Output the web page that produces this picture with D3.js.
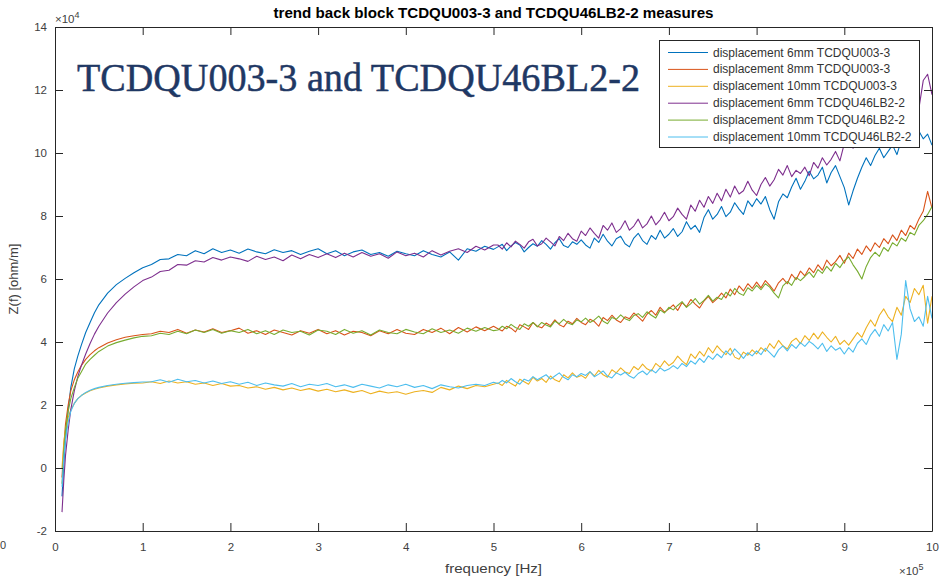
<!DOCTYPE html>
<html><head><meta charset="utf-8">
<script src="https://cdn.jsdelivr.net/npm/d3@7"></script>
<style>
html,body{margin:0;padding:0;background:#fff;}
svg{display:block;font-family:"Liberation Sans",Arial,sans-serif;}
</style></head>
<body><svg id="chart" width="947" height="577"></svg>
<script>
// ---------- DATA ----------
const chartTitle = "trend back block TCDQU003-3 and TCDQU46LB2-2 measures";
const overlayText = "TCDQU003-3 and TCDQU46BL2-2";
const xLabel = "frequency [Hz]";
const yLabel = "Z(f) [ohm/m]";
const xTicks = [0,1,2,3,4,5,6,7,8,9,10];            // ×10^5 Hz
const yTicks = [-2,0,2,4,6,8,10,12,14];               // ×10^4 ohm/m
const seriesNames = [
  "displacement 6mm TCDQU003-3",
  "displacement 8mm TCDQU003-3",
  "displacement 10mm TCDQU003-3",
  "displacement 6mm TCDQU46LB2-2",
  "displacement 8mm TCDQU46LB2-2",
  "displacement 10mm TCDQU46LB2-2"
];
const seriesColors = ["#0072BD","#D95319","#EDB120","#7E2F8E","#77AC30","#4DBEEE"];

// frequency in kHz
const freqKHz = [8,10,12,15,18,22,26,30,35,40,45,50,60,70,80,90,100,
110,120,130,140,150,160,170,180,190,200,
210,220,230,240,250,260,270,280,290,300,
310,320,330,340,350,360,370,380,390,400,
410,420,430,440,450,460,470,480,490,500,
505,510,515,520,525,530,535,540,545,550,
555,560,565,570,575,580,585,590,595,600,
605,610,615,620,625,630,635,640,645,650,
655,660,665,670,675,680,685,690,695,700,
705,710,715,720,725,730,735,740,745,750,
755,760,765,770,775,780,785,790,795,800,
805,810,815,820,825,830,835,840,845,850,
855,860,865,870,875,880,885,890,895,900,
905,910,915,920,925,930,935,940,945,950,
955,960,965,970,975,980,985,990,995,1000];

// Z(f) values in units of 1e4 ohm/m
const disp6mm_003 = [-0.90,0.10,0.95,1.85,2.55,3.15,3.55,3.90,4.30,4.62,4.93,5.18,5.55,5.82,6.02,6.20,6.36,
6.46,6.62,6.64,6.78,6.74,6.90,6.80,6.96,6.84,6.92,
6.82,6.95,6.86,6.80,6.93,6.84,6.90,6.78,6.88,6.96,
6.80,6.90,6.74,6.86,6.92,6.78,6.84,6.72,6.88,6.80,
6.74,6.90,6.78,6.70,6.86,6.60,6.96,6.88,7.04,6.94,
7.02,7.10,6.90,7.05,7.16,7.08,6.86,7.00,7.12,7.04,
7.22,7.10,6.95,7.15,7.28,7.06,7.00,7.18,7.10,7.24,
7.08,6.98,7.30,7.16,7.42,7.20,7.05,7.28,7.36,7.12,
7.02,7.30,7.45,7.22,7.10,7.38,7.26,7.55,7.30,7.42,
7.60,7.35,7.50,7.82,7.58,7.70,7.48,7.95,8.20,7.90,
8.05,8.30,7.98,8.12,8.42,8.22,8.05,8.48,8.30,8.55,
8.38,8.62,8.20,7.90,8.45,8.70,8.58,8.92,9.20,8.85,
9.10,9.42,9.18,9.30,9.55,9.05,9.38,9.60,9.25,8.90,
8.35,8.80,9.20,9.55,9.85,9.60,9.92,10.15,9.85,10.05,
10.25,9.95,10.40,10.20,10.55,10.35,10.70,10.45,10.60,10.25];

const disp8mm_003 = [-0.30,0.70,1.40,2.00,2.45,2.80,3.05,3.25,3.45,3.60,3.72,3.82,3.97,4.07,4.15,4.20,4.24,
4.26,4.34,4.30,4.40,4.28,4.38,4.32,4.42,4.30,4.36,
4.44,4.28,4.36,4.24,4.38,4.30,4.22,4.36,4.28,4.40,
4.26,4.36,4.22,4.34,4.30,4.20,4.36,4.26,4.40,4.28,
4.24,4.40,4.30,4.44,4.26,4.46,4.32,4.48,4.36,4.50,
4.42,4.35,4.50,4.44,4.32,4.55,4.48,4.40,4.62,4.50,
4.45,4.60,4.52,4.70,4.55,4.48,4.66,4.58,4.75,4.62,
4.55,4.72,4.65,4.50,4.78,4.68,4.85,4.70,4.62,4.80,
4.74,4.92,4.80,4.66,4.88,5.00,4.85,5.10,4.95,5.05,
5.18,5.00,5.25,5.12,5.35,5.20,5.08,5.30,5.45,5.25,
5.38,5.55,5.40,5.68,5.50,5.78,5.62,5.85,5.70,5.90,
5.72,5.95,5.80,5.62,5.88,6.02,5.85,6.15,5.98,6.25,
6.10,6.35,6.20,6.45,6.28,6.60,6.42,6.55,6.75,6.50,
6.82,6.65,6.95,6.78,7.05,6.88,7.15,7.00,7.28,7.12,
7.40,7.22,7.55,7.38,7.70,7.58,7.90,8.15,8.78,8.25];

const disp10mm_003 = [0.00,0.80,1.20,1.60,1.85,2.05,2.20,2.30,2.38,2.45,2.50,2.54,2.60,2.64,2.67,2.69,2.70,
2.74,2.68,2.76,2.70,2.74,2.66,2.70,2.62,2.68,2.60,
2.62,2.54,2.58,2.50,2.56,2.48,2.54,2.46,2.52,2.44,
2.50,2.42,2.48,2.40,2.46,2.36,2.44,2.38,2.42,2.34,
2.42,2.46,2.40,2.56,2.48,2.60,2.52,2.62,2.58,2.66,
2.70,2.62,2.78,2.68,2.60,2.82,2.74,2.66,2.88,2.76,
2.84,2.72,2.92,2.80,2.74,2.96,2.86,3.02,2.88,2.94,
2.85,3.05,2.92,3.10,2.96,2.88,3.12,3.02,3.18,3.05,
3.00,3.22,3.12,3.30,3.15,3.08,3.32,3.20,3.40,3.25,
3.35,3.55,3.40,3.28,3.62,3.48,3.70,3.55,3.82,3.65,
3.88,3.72,3.60,3.80,3.52,3.45,3.68,3.58,3.75,3.62,
3.82,3.70,3.95,3.80,4.05,3.88,3.78,4.02,4.12,3.95,
4.20,4.05,4.28,4.10,4.32,4.15,4.00,4.18,3.92,4.05,
3.90,4.10,4.30,4.15,4.45,4.70,4.50,4.85,5.05,4.80,
4.65,5.10,4.85,5.45,5.25,5.70,5.50,5.80,4.60,5.45];

const disp6mm_46LB = [-1.40,-0.40,0.40,1.20,1.85,2.45,2.90,3.25,3.62,3.95,4.25,4.50,4.92,5.25,5.52,5.75,5.95,
6.06,6.24,6.28,6.46,6.44,6.58,6.54,6.68,6.60,6.70,
6.64,6.56,6.72,6.62,6.70,6.58,6.76,6.64,6.78,6.68,
6.80,6.68,6.82,6.70,6.84,6.72,6.80,6.66,6.86,6.74,
6.82,6.70,6.90,6.76,6.88,6.96,6.84,7.04,6.92,7.08,
7.08,6.95,7.15,7.02,7.20,7.10,6.98,7.18,7.26,7.05,
7.12,7.30,7.18,7.05,7.35,7.22,7.45,7.28,7.20,7.52,
7.38,7.62,7.45,7.30,7.70,7.55,7.78,7.48,7.60,7.85,
7.55,7.68,7.90,7.62,7.75,8.00,7.72,7.88,8.12,7.85,
7.98,8.25,8.05,7.90,8.35,8.15,8.50,8.28,8.62,8.40,
8.72,8.48,8.85,8.60,8.95,8.70,8.80,9.10,8.82,8.65,
9.00,9.22,8.95,9.15,9.48,9.30,9.60,9.25,9.45,9.35,
9.55,9.28,9.70,9.52,9.85,9.62,9.80,10.05,9.75,10.30,
10.45,10.15,10.60,10.35,10.50,10.25,10.70,10.45,10.85,10.60,
10.95,10.70,11.10,10.85,11.30,11.05,11.40,12.30,12.50,11.85];

const disp8mm_46LB = [-0.50,0.50,1.20,1.80,2.20,2.55,2.85,3.05,3.30,3.45,3.58,3.70,3.87,3.98,4.06,4.13,4.18,
4.20,4.28,4.24,4.34,4.26,4.38,4.30,4.40,4.28,4.36,
4.30,4.40,4.26,4.36,4.24,4.38,4.30,4.34,4.22,4.38,
4.34,4.24,4.40,4.28,4.36,4.22,4.38,4.30,4.26,4.40,
4.32,4.26,4.42,4.30,4.38,4.28,4.44,4.34,4.46,4.36,
4.38,4.50,4.42,4.56,4.46,4.40,4.58,4.50,4.62,4.48,
4.62,4.54,4.48,4.66,4.58,4.72,4.60,4.55,4.70,4.64,
4.76,4.62,4.70,4.82,4.66,4.58,4.78,4.72,4.86,4.74,
4.68,4.84,4.90,4.78,4.96,4.85,4.76,5.02,4.92,5.10,
5.02,5.16,5.28,5.10,5.22,5.38,5.20,5.32,5.48,5.30,
5.42,5.35,5.58,5.46,5.70,5.55,5.48,5.72,5.62,5.80,
5.66,5.85,5.74,5.55,5.40,5.78,5.92,5.80,6.05,5.95,
6.08,6.22,6.05,6.30,6.18,6.40,6.25,6.50,6.36,6.58,
6.70,6.45,6.25,6.00,6.40,6.68,6.85,6.72,7.00,6.88,
7.15,7.05,7.30,7.20,7.48,7.40,7.70,7.85,8.05,8.30];

const disp10mm_46LB = [-0.60,0.30,0.90,1.45,1.80,2.05,2.20,2.30,2.40,2.47,2.52,2.56,2.62,2.66,2.69,2.71,2.73,
2.74,2.80,2.72,2.82,2.74,2.78,2.70,2.76,2.68,2.74,
2.66,2.72,2.62,2.70,2.64,2.60,2.68,2.58,2.66,2.62,
2.68,2.58,2.64,2.56,2.66,2.60,2.54,2.64,2.58,2.66,
2.56,2.62,2.52,2.64,2.58,2.54,2.62,2.66,2.62,2.72,
2.68,2.78,2.70,2.84,2.74,2.66,2.82,2.76,2.90,2.80,
2.88,2.96,2.82,2.92,3.02,2.88,2.80,2.96,2.90,3.00,
2.94,3.06,2.90,2.98,3.08,2.92,2.86,3.02,2.95,3.04,
2.92,2.85,3.00,3.08,2.96,3.12,3.02,3.18,3.08,3.14,
3.25,3.15,3.32,3.22,3.40,3.30,3.48,3.35,3.56,3.45,
3.62,3.50,3.72,3.58,3.78,3.64,3.48,3.66,3.56,3.72,
3.60,3.80,3.66,3.52,3.75,3.88,3.72,3.92,3.80,3.98,
3.86,4.02,3.92,3.78,3.96,3.70,3.88,3.74,3.82,3.62,
3.82,3.68,3.96,4.10,3.92,4.22,4.40,4.18,4.55,4.35,
4.62,3.45,4.25,5.95,5.05,4.65,4.80,4.50,5.45,4.75];

const seriesValues = [disp6mm_003, disp8mm_003, disp10mm_003, disp6mm_46LB, disp8mm_46LB, disp10mm_46LB];

// ---------- DRAW ----------
const svg = d3.select("#chart");
const L = 55, R = 932, T = 27, B = 531;
const x = d3.scaleLinear().domain([0, 1000]).range([L, R]);   // kHz
const y = d3.scaleLinear().domain([-2, 14]).range([B, T]);    // ×1e4
const axisCol = "#262626", textCol = "#404040";

svg.append("defs").append("clipPath").attr("id","clip")
  .append("rect").attr("x",L).attr("y",T).attr("width",R-L).attr("height",B-T);

// lines
const line = d3.line().x((d,i)=>x(freqKHz[i])).y(d=>y(d));
const gLines = svg.append("g").attr("clip-path","url(#clip)");
seriesValues.forEach((vals,k)=>{
  gLines.append("path").datum(vals).attr("d",line)
    .attr("fill","none").attr("stroke",seriesColors[k]).attr("stroke-width",1.1)
    .attr("stroke-linejoin","round");
});

// axes
function styleAxis(g){
  g.select(".domain").attr("stroke",axisCol).attr("stroke-width",1);
  g.selectAll(".tick line").attr("stroke",axisCol);
  g.selectAll(".tick text").attr("fill",textCol).attr("font-size","11.5px")
    .attr("font-family","Liberation Sans, Arial, sans-serif");
}
const xt = xTicks.map(v=>v*100);
svg.append("g").attr("transform",`translate(0,${B})`)
  .call(d3.axisBottom(x).tickValues(xt).tickFormat(d=>String(d/100)).tickSizeInner(-8).tickSizeOuter(0).tickPadding(12))
  .call(styleAxis);
svg.append("g").attr("transform",`translate(0,${T})`)
  .call(d3.axisTop(x).tickValues(xt).tickFormat("").tickSizeInner(-8).tickSizeOuter(0))
  .call(styleAxis);
svg.append("g").attr("transform",`translate(${L},0)`)
  .call(d3.axisLeft(y).tickValues(yTicks).tickFormat(d=>String(d)).tickSizeInner(-8).tickSizeOuter(0).tickPadding(8))
  .call(styleAxis);
svg.append("g").attr("transform",`translate(${R},0)`)
  .call(d3.axisRight(y).tickValues(yTicks).tickFormat("").tickSizeInner(-8).tickSizeOuter(0))
  .call(styleAxis);

// exponent labels
const e4 = svg.append("text").attr("x",55).attr("y",23).attr("fill",textCol).attr("font-size","11.5px");
e4.append("tspan").text("\u00d710");
e4.append("tspan").attr("font-size","9px").attr("dy",-5).text("4");
const e5 = svg.append("text").attr("x",899).attr("y",575).attr("fill",textCol).attr("font-size","11.5px");
e5.append("tspan").text("\u00d710");
e5.append("tspan").attr("font-size","9px").attr("dy",-5).text("5");

// title
svg.append("text").attr("x",(L+R)/2).attr("y",18).attr("text-anchor","middle")
  .attr("font-weight","bold").attr("font-size","14px").attr("fill","#000")
  .attr("textLength",440).attr("lengthAdjust","spacingAndGlyphs").text(chartTitle);

// axis labels
svg.append("text").attr("x",(L+R)/2).attr("y",573).attr("text-anchor","middle")
  .attr("font-size","13.5px").attr("fill",textCol)
  .attr("textLength",97).attr("lengthAdjust","spacingAndGlyphs").text(xLabel);
svg.append("text").attr("transform",`translate(18,${(T+B)/2}) rotate(-90)`).attr("text-anchor","middle")
  .attr("font-size","13px").attr("fill",textCol).text(yLabel);

// stray character at left edge (partly off-page in the original)
svg.append("text").attr("x",0).attr("y",549).attr("text-anchor","start")
  .attr("font-size","11px").attr("fill",textCol).text("0");

// legend
const lg = svg.append("g");
lg.append("rect").attr("x",659.5).attr("y",40.5).attr("width",260).attr("height",107)
  .attr("fill","#fff").attr("stroke",axisCol).attr("stroke-width",1);
seriesNames.forEach((n,k)=>{
  const yy = 52.5 + k*16.9;
  lg.append("line").attr("x1",668).attr("x2",708).attr("y1",yy).attr("y2",yy)
    .attr("stroke",seriesColors[k]).attr("stroke-width",1);
  lg.append("text").attr("x",713).attr("y",yy+4).attr("font-size","12px").attr("fill","#333").text(n);
});

// overlay annotation
svg.append("text").attr("x",77).attr("y",91).attr("font-family","Liberation Serif, 'DejaVu Serif', serif")
  .attr("font-size","41px").attr("fill","#1F3864").attr("stroke","#1F3864").attr("stroke-width",0.5)
  .attr("textLength",563).attr("lengthAdjust","spacingAndGlyphs").text(overlayText);
</script>
</body></html>
